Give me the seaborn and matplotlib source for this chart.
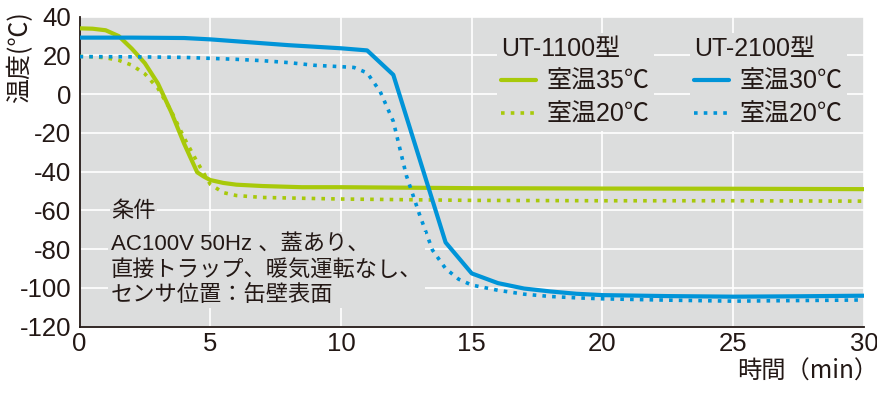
import numpy as np
import pandas as pd
import matplotlib
matplotlib.use("Agg")
import matplotlib.pyplot as plt
import seaborn as sns
from matplotlib.lines import Line2D

# ---------------- data ----------------
t_g35 = [0, 0.5, 1.0, 1.5, 2.0, 2.5, 3.0, 3.5, 4.0, 4.5, 4.75, 5.0, 5.5, 6.0, 7.0, 8.5, 10, 15, 20, 25, 30]
v_g35 = [34, 33.8, 33, 30, 23.5, 16, 5.5, -9, -25.5, -40.3, -42.5, -44.3, -45.8, -46.7, -47.4, -48, -48, -48.5, -48.7, -48.8, -49]

t_g20 = [0, 0.5, 1.0, 1.5, 2.0, 2.5, 3.0, 3.5, 4.0, 4.5, 5.0, 5.5, 6.0, 7.0, 10, 15, 20, 25, 30]
v_g20 = [19.5, 19.3, 18.8, 17.5, 15, 10.5, 3, -8.5, -22.5, -35, -46.5, -50.8, -52.3, -53.3, -54.1, -54.8, -55, -55, -55.2]

t_b30 = [0, 2, 4, 5, 6, 7, 8, 9, 10, 11, 12, 14, 15, 16, 17, 18, 19, 20, 22.5, 25, 27.5, 30]
v_b30 = [29.2, 29.2, 29, 28.3, 27.3, 26.3, 25.3, 24.5, 23.7, 22.6, 10, -76.5, -92.5, -97.5, -100.3, -101.8, -103, -103.7, -104.2, -104.5, -104.3, -104]

t_b20 = [0, 2, 4, 5, 6, 7, 8, 9, 10, 10.5, 11, 11.5, 12, 12.5, 13, 13.5, 14, 14.5, 15, 16, 17, 18, 19, 20, 22.5, 25, 27.5, 30]
v_b20 = [19.4, 19.3, 19, 18.5, 18, 17.3, 16.3, 14.9, 14.2, 13.8, 11, 1.3, -14, -42, -62, -80.5, -90, -95.5, -98.5, -101.2, -103.2, -104.4, -105.1, -105.6, -106.3, -106.8, -106.5, -106.2]

series_names = ["UT-1100型 室温35℃", "UT-1100型 室温20℃", "UT-2100型 室温30℃", "UT-2100型 室温20℃"]
legend_titles = ["UT-1100型", "UT-2100型"]
legend_labels = ["室温35℃", "室温20℃", "室温30℃", "室温20℃"]
x_ticks = [0, 5, 10, 15, 20, 25, 30]
y_ticks = [-120, -100, -80, -60, -40, -20, 0, 20, 40]
x_label = "時間（min）"
y_label = "温度(℃)"
note_title = "条件"
note_lines = ["AC100V 50Hz 、蓋あり、", "直接トラップ、暖気運転なし、", "センサ位置：缶壁表面"]

GREEN = "#a8c90a"
BLUE = "#0094d8"
INK = "#231815"
BG = "#dcdddd"

sns.set_style("white")
plt.rcParams['font.family'] = ['Liberation Sans', 'Noto Sans CJK JP', 'DejaVu Sans']
plt.rcParams['text.color'] = INK
plt.rcParams['axes.labelcolor'] = INK
plt.rcParams['xtick.color'] = INK
plt.rcParams['ytick.color'] = INK

fig = plt.figure(figsize=(8.77, 3.94), dpi=100)
ax = fig.add_axes([79.5 / 877, 1 - 326.7 / 394, (864 - 79.5) / 877, (326.7 - 16.7) / 394])
ax.set_facecolor(BG)

frames = []
for name, t, v in zip(series_names, [t_g35, t_g20, t_b30, t_b20], [v_g35, v_g20, v_b30, v_b20]):
    frames.append(pd.DataFrame({"time": t, "temp": v, "series": name}))
df = pd.concat(frames, ignore_index=True)

styles = {
    series_names[0]: (GREEN, None),
    series_names[1]: (GREEN, (1, 1.7)),
    series_names[2]: (BLUE, None),
    series_names[3]: (BLUE, (1, 1.7)),
}
handles = []
for name in series_names:
    col, dash = styles[name]
    sub = df[df["series"] == name]
    sns.lineplot(data=sub, x="time", y="temp", color=col, lw=3.0 if dash is None else 2.6,
                 ax=ax, legend=False, sort=False, zorder=3)
    ln = ax.lines[-1]
    ln.set_solid_capstyle("butt")
    if dash is not None:
        ln.set_dashes(dash)
        ln.set_dash_capstyle("butt")
    ln.set_solid_joinstyle("round")
    h = Line2D([0], [0], color=col, lw=ln.get_linewidth())
    if dash is not None:
        h.set_dashes(dash)
        h.set_dash_capstyle("butt")
    handles.append(h)

ax.set_xlim(0, 30)
ax.set_ylim(-120, 40)
ax.set_xticks(x_ticks)
ax.set_yticks(y_ticks)
ax.set_xticklabels([str(v) for v in x_ticks])
ax.set_yticklabels([str(v) for v in y_ticks])
ax.set_xlabel("")
ax.set_ylabel("")
ax.grid(True, color="white", lw=1.2)
ax.set_axisbelow(True)
for s in ["top", "right"]:
    ax.spines[s].set_visible(False)
for s in ["left", "bottom"]:
    ax.spines[s].set_color(INK)
    ax.spines[s].set_linewidth(1.3)
ax.tick_params(axis="both", direction="in", length=4.5, width=1.2, labelsize=18.5, colors=INK)
ax.tick_params(axis="y", pad=6)
ax.tick_params(axis="x", pad=4)

fig.text(878 / 877, 1 - 372 / 394, x_label, ha="right", va="center", fontsize=17.5,
         family=['Noto Sans CJK JP', 'DejaVu Sans'])
fig.text(20 / 877, 1 - 57 / 394, y_label, ha="center", va="center", rotation=90, fontsize=18,
         family=['Noto Sans CJK JP', 'DejaVu Sans'])

leg_kw = dict(fontsize=18, title_fontsize=18, frameon=True, facecolor=BG, edgecolor="none",
              framealpha=1, handlelength=1.4, handletextpad=0.45, labelspacing=0.36,
              borderpad=0.15, borderaxespad=0, alignment="left", loc="upper left",
              bbox_transform=fig.transFigure)
leg1 = ax.legend(handles[:2], legend_labels[:2], title=legend_titles[0],
                 bbox_to_anchor=(497 / 877, 1 - 33 / 394), **leg_kw)
leg1.get_frame().set_boxstyle("square", pad=0)
ax.add_artist(leg1)
leg2 = ax.legend(handles[2:], legend_labels[2:], title=legend_titles[1],
                 bbox_to_anchor=(690 / 877, 1 - 33 / 394), **leg_kw)
leg2.get_frame().set_boxstyle("square", pad=0)
for lg in (leg1, leg2):
    lg.get_title().set_color(INK)
    for tx in lg.get_texts():
        tx.set_color(INK)

fig.text(111 / 877, 1 - 212 / 394, note_title, ha="left", va="center", fontsize=16,
         bbox=dict(facecolor=BG, edgecolor="none", pad=1))
fig.text(111 / 877, 1 - 270 / 394, "\n".join(note_lines), ha="left", va="center", fontsize=16,
         linespacing=1.27, bbox=dict(facecolor=BG, edgecolor="none", pad=2))

fig.savefig("out.png", dpi=100)
